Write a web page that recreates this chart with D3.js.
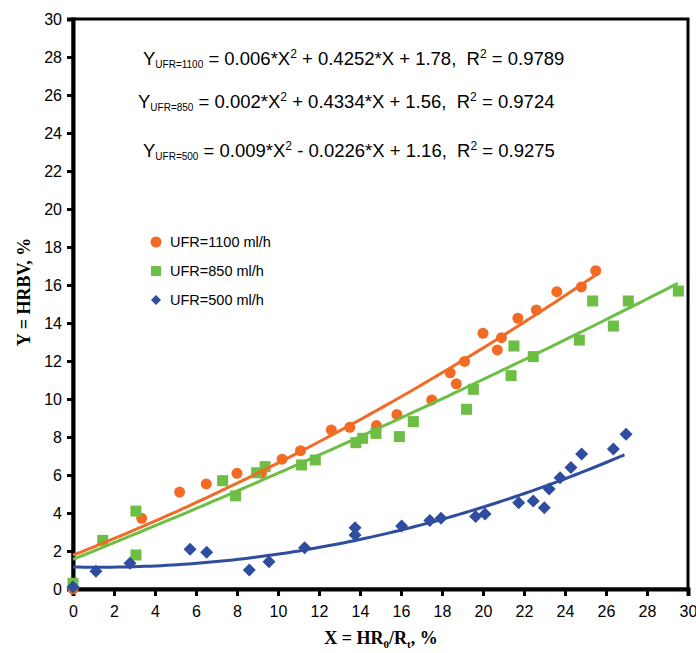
<!DOCTYPE html>
<html><head><meta charset="utf-8">
<script src="https://cdn.jsdelivr.net/npm/d3@7"></script>
<style>html,body{margin:0;padding:0;background:#fff;}svg{display:block;}</style>
</head><body>
<svg id="chart" width="696" height="653"></svg>
<script>
// ---- data ----
const seriesNames = ["UFR=1100 ml/h", "UFR=850 ml/h", "UFR=500 ml/h"];
const x1100 = [0, 3.35, 5.2, 6.5, 8.0, 9.2, 10.2, 11.1, 12.6, 13.5, 14.8, 15.8, 17.5, 18.7, 18.4, 19.1, 20.0, 20.7, 20.9, 21.7, 22.6, 23.6, 24.8, 25.5];
const y1100 = [0, 3.72, 5.1, 5.53, 6.09, 6.1, 6.83, 7.28, 8.37, 8.51, 8.6, 9.19, 9.95, 10.8, 11.38, 11.98, 13.46, 12.58, 13.23, 14.25, 14.68, 15.65, 15.9, 16.75];
const x850 = [0, 1.45, 3.07, 3.07, 7.3, 7.93, 8.96, 9.37, 11.15, 11.82, 13.8, 14.13, 14.78, 15.92, 16.6, 19.2, 19.53, 21.37, 21.51, 22.45, 24.7, 25.35, 26.36, 27.09, 29.53];
const y850 = [0.3, 2.56, 4.1, 1.79, 5.7, 4.9, 6.12, 6.44, 6.53, 6.79, 7.7, 7.93, 8.19, 8.02, 8.81, 9.46, 10.51, 11.23, 12.79, 12.23, 13.1, 15.16, 13.84, 15.16, 15.68];
const x500 = [0, 1.12, 2.78, 5.71, 6.52, 8.6, 9.56, 11.3, 13.76, 13.76, 16.03, 17.41, 17.95, 19.64, 20.1, 21.74, 22.45, 22.99, 23.23, 23.76, 24.29, 24.81, 26.36, 26.98];
const y500 = [0.1, 0.94, 1.35, 2.09, 1.93, 1.0, 1.44, 2.17, 3.23, 2.84, 3.32, 3.6, 3.72, 3.81, 3.95, 4.54, 4.63, 4.28, 5.26, 5.86, 6.4, 7.1, 7.37, 8.14];
// trendline coefficients (a*X^2 + b*X + c) and x-extent, as printed on the chart
const fitA = [0.006, 0.002, 0.009];
const fitB = [0.4252, 0.4334, -0.0226];
const fitC = [1.78, 1.56, 1.16];
const fitXMax = [25.5, 29.5, 26.9];
const equationLabels = [
  ["UFR=1100", " = 0.006*X", " + 0.4252*X + 1.78,  R", " = 0.9789"],
  ["UFR=850", " = 0.002*X", " + 0.4334*X + 1.56,  R", " = 0.9724"],
  ["UFR=500", " = 0.009*X", " - 0.0226*X + 1.16,  R", " = 0.9275"]
];
const xTicks = d3.range(0, 31, 2);
const yTicks = d3.range(0, 31, 2);
const colors = ["#F26A24", "#6DBE45", "#2E4D9F"];

// ---- layout ----
const svg = d3.select("#chart");
const L = 73, R = 688, T = 19, B = 589;
const x = d3.scaleLinear().domain([0, 30]).range([L, R]);
const y = d3.scaleLinear().domain([0, 30]).range([B, T]);
const font = "'Liberation Sans', Arial, sans-serif";
const serif = "'Liberation Serif', 'Times New Roman', serif";

// frame
svg.append("rect").attr("x", L).attr("y", T).attr("width", R - L).attr("height", B - T)
  .attr("fill", "none").attr("stroke", "#000").attr("stroke-width", 3);

// axes
const xAxis = svg.append("g").attr("transform", `translate(0,${B})`)
  .call(d3.axisBottom(x).tickValues(xTicks).tickSize(7).tickPadding(10).tickFormat(d3.format("d")));
const yAxis = svg.append("g").attr("transform", `translate(${L},0)`)
  .call(d3.axisLeft(y).tickValues(yTicks).tickSize(6).tickPadding(5).tickFormat(d3.format("d")));
[xAxis, yAxis].forEach(g => {
  g.select(".domain").attr("stroke", "#000").attr("stroke-width", 4);
  g.selectAll(".tick line").attr("stroke", "#000").attr("stroke-width", 3);
  g.selectAll(".tick text").attr("fill", "#000").style("font-family", font).style("font-size", "16px");
});

// data series
const series = [
  {xs: x1100, ys: y1100, shape: "circle"},
  {xs: x850, ys: y850, shape: "square"},
  {xs: x500, ys: y500, shape: "diamond"}
];
function marker(g, shape, cx, cy, color, s) {
  if (shape === "circle") {
    g.append("circle").attr("cx", cx).attr("cy", cy).attr("r", s * 0.5).attr("fill", color);
  } else if (shape === "square") {
    g.append("rect").attr("x", cx - s / 2).attr("y", cy - s / 2).attr("width", s).attr("height", s).attr("fill", color);
  } else {
    const h = s * 0.5;
    g.append("path").attr("d", `M${cx},${cy - h}L${cx + h},${cy}L${cx},${cy + h}L${cx - h},${cy}Z`).attr("fill", color);
  }
}
const pts = svg.append("g");
const sizes = [11, 11, 13];
series.forEach((s, i) => {
  s.xs.forEach((xv, j) => marker(pts, s.shape, x(xv), y(s.ys[j]), colors[i], sizes[i]));
});

// trendlines
const lineGen = d3.line().x(d => x(d[0])).y(d => y(d[1]));
fitA.forEach((a, i) => {
  const xs = d3.range(0, fitXMax[i] + 0.001, fitXMax[i] / 100);
  const data = xs.map(v => [v, a * v * v + fitB[i] * v + fitC[i]]);
  svg.append("path").datum(data).attr("d", lineGen)
    .attr("fill", "none").attr("stroke", colors[i]).attr("stroke-width", 3);
});

// equations
const eqPos = [[143, 65], [138, 108], [143, 157]];
equationLabels.forEach((p, i) => {
  const t = svg.append("text").attr("x", eqPos[i][0]).attr("y", eqPos[i][1])
    .attr("xml:space", "preserve").style("white-space", "pre")
    .style("font-family", font).style("font-size", "18.5px").attr("fill", "#000");
  t.append("tspan").text("Y");
  t.append("tspan").attr("dy", 3).style("font-size", "10px").text(p[0]);
  t.append("tspan").attr("dy", -3).text(p[1]);
  t.append("tspan").attr("dy", -7).style("font-size", "12px").text("2");
  t.append("tspan").attr("dy", 7).text(p[2]);
  t.append("tspan").attr("dy", -7).style("font-size", "12px").text("2");
  t.append("tspan").attr("dy", 7).text(p[3]);
});

// legend
const legY = [242, 271, 300];
const legMarkerSize = [11, 10, 10];
seriesNames.forEach((n, i) => {
  marker(svg, series[i].shape, 156, legY[i], colors[i], legMarkerSize[i]);
  svg.append("text").attr("x", 170).attr("y", legY[i] + 5)
    .style("font-family", font).style("font-size", "14.5px").attr("fill", "#000").text(n);
});

// axis titles
const xt = svg.append("text").attr("x", 381).attr("y", 644).attr("text-anchor", "middle")
  .style("font-family", serif).style("font-size", "18px").style("font-weight", "bold").attr("fill", "#000");
xt.append("tspan").text("X = HR");
xt.append("tspan").attr("dy", 4).style("font-size", "11px").text("0");
xt.append("tspan").attr("dy", -4).text("/R");
xt.append("tspan").attr("dy", 4).style("font-size", "11px").text("t");
xt.append("tspan").attr("dy", -4).text(", %");

svg.append("text").attr("transform", "translate(30,292) rotate(-90)").attr("text-anchor", "middle")
  .style("font-family", serif).style("font-size", "18px").style("font-weight", "bold").attr("fill", "#000")
  .text("Y = HRBV, %");
</script>
</body></html>
